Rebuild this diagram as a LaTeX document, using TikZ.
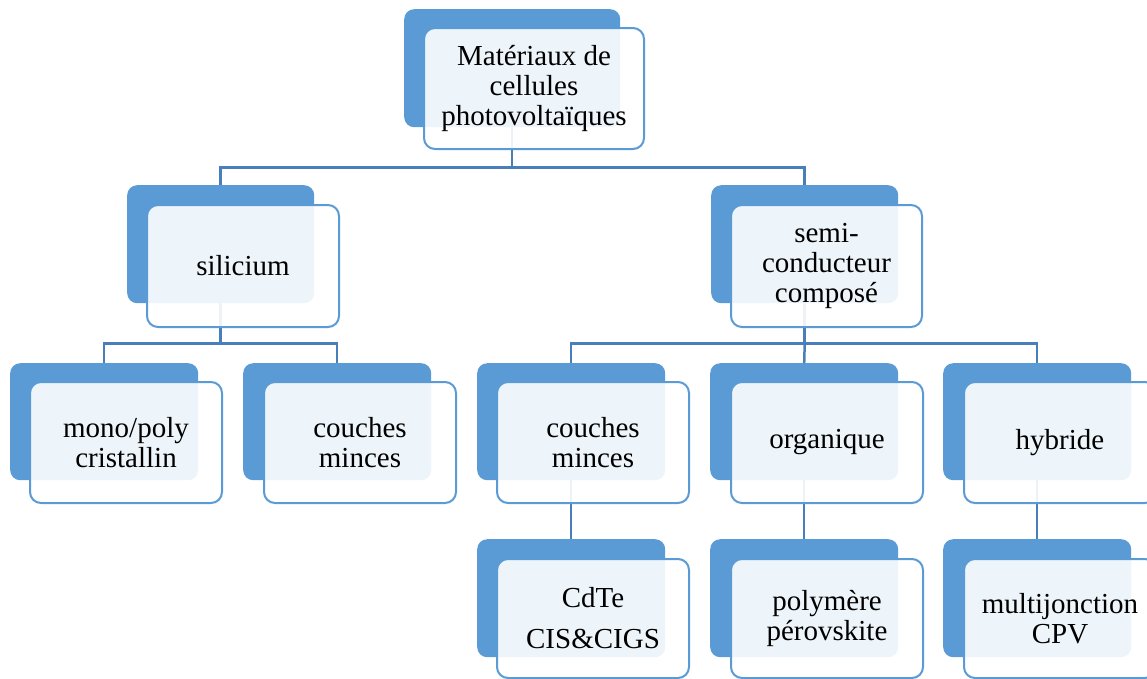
\documentclass[tikz,border=0pt]{standalone}
\usepackage{fontspec}
\setmainfont{Liberation Serif}
\definecolor{bblue}{HTML}{5B9BD5}
\definecolor{cblue}{HTML}{4A7EBB}
\begin{document}
\begin{tikzpicture}[x=1pt,y=-1pt,
  back/.style={fill=bblue, rounded corners=10pt, anchor=north west, inner sep=0pt,
    minimum width=188pt, minimum height=117pt},
  front/.style={draw=bblue, line width=2pt, fill=white, fill opacity=0.9, text opacity=1,
    rounded corners=11pt, anchor=north west, inner sep=0pt, align=center,
    minimum width=192pt, minimum height=121pt, font=\fontsize{29}{30}\selectfont},
  conn/.style={draw=cblue, line width=2.5pt}]
\useasboundingbox (0,0) rectangle (1147,678);
\clip (0,0) rectangle (1147,678);
% back boxes
\node[back, minimum width=216pt, minimum height=118pt] (rootB) at (404,9) {};
\node[back, minimum width=187pt, minimum height=118pt] (siB) at (127,185) {};
\node[back, minimum width=187pt, minimum height=118pt] (scB) at (711,185) {};
\node[back] (mpB) at (10,363) {};
\node[back] (cmaB) at (243,363) {};
\node[back] (cmbB) at (477,363) {};
\node[back] (orgB) at (710,363) {};
\node[back] (hybB) at (943,363) {};
\node[back, minimum height=118pt] (cdB) at (477,539) {};
\node[back, minimum height=118pt] (polB) at (710,539) {};
\node[back, minimum height=118pt] (mulB) at (943,539) {};
% connectors
\draw[conn] (rootB.south) -- ++(0,40) coordinate (bus1);
\draw[conn] (siB.north) |- (bus1) -| (scB.north);
\draw[conn] (siB.south) -- ++(0,40) coordinate (bus2);
\draw[conn] (mpB.north) |- (bus2) -| (cmaB.north);
\draw[conn] (scB.south) -- ++(0,40) coordinate (bus3);
\draw[conn] (cmbB.north) |- (bus3) -| (hybB.north);
\draw[conn] (bus3) -- (orgB.north);
\draw[conn] (cmbB.south) -- (cdB.north);
\draw[conn] (orgB.south) -- (polB.north);
\draw[conn] (hybB.south) -- (mulB.north);
% front boxes
\node[front, minimum width=220pt] (root) at (423,27) {Matériaux de\\cellules\\photovoltaïques};
\node[front, minimum height=122pt] (si) at (146,204) {silicium};
\node[front, minimum width=191pt, minimum height=122pt] (sc) at (730,204) {semi-\\conducteur\\composé};
\node[front] (mp) at (29,381) {mono/poly\\cristallin};
\node[front] (cma) at (263,381) {couches\\minces};
\node[front] (cmb) at (496,381) {couches\\minces};
\node[front] (org) at (730,381) {organique};
\node[front] (hyb) at (963,381) {hybride};
\node[front, minimum height=119pt] (cd) at (496,558) {CdTe\\[11pt]CIS\&CIGS};
\node[front, minimum height=119pt] (pol) at (730,558) {polymère\\pérovskite};
\node[front, minimum height=119pt] (mul) at (963,558) {multijonction\\CPV};
\end{tikzpicture}
\end{document}
